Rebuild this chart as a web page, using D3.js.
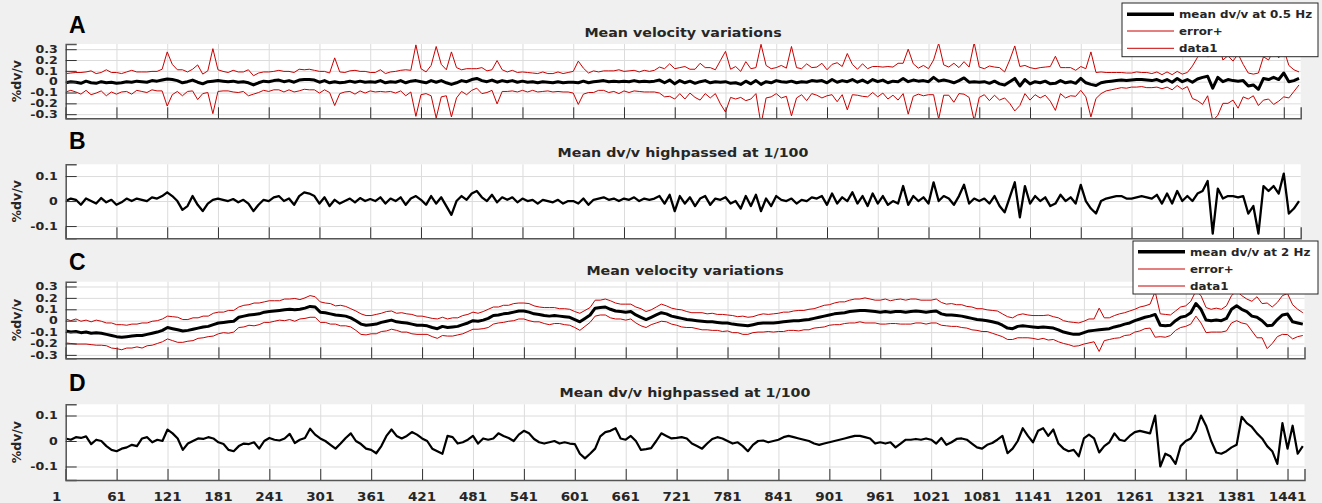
<!DOCTYPE html>
<html><head><meta charset="utf-8">
<script src="https://cdn.jsdelivr.net/npm/d3@7"></script>
<style>body{margin:0;background:#f0f0f0;}svg{display:block;}</style>
</head><body>
<svg id="chart" width="1322" height="503"></svg>
<script>
// ---- DATA (sampled every 6 days, day 1 .. 1459) ----
const days = d3.range(1, 1460, 6);
const xTicks = [1,61,121,181,241,301,361,421,481,541,601,661,721,781,841,901,961,1021,1081,1141,1201,1261,1321,1381,1441];
const xTickLabels = ["1","61","121","181","241","301","361","421","481","541","601","661","721","781","841","901","961","1021","1081","1141","1201","1261","1321","1381","1441"];
const yTicksWide = [-0.3,-0.2,-0.1,0,0.1,0.2,0.3];
const yTickLabelsWide = ["-0.3","-0.2","-0.1","0","0.1","0.2","0.3"];
const yTicksNarrow = [-0.1,0,0.1];
const yTickLabelsNarrow = ["-0.1","0","0.1"];
const legendA = ["mean dv/v at 0.5 Hz","error+","data1"];
const legendC = ["mean dv/v at 2 Hz","error+","data1"];

const meanA = [
-0.01,0.0,-0.005,-0.015,0.005,-0.01,-0.015,0.0,-0.01,-0.005,
-0.015,-0.01,0.0,-0.005,0.005,0.0,-0.005,0.01,0.005,0.015,
0.025,0.02,0.01,-0.01,0.0,0.015,-0.005,-0.02,0.0,0.005,
0.01,0.005,0.0,0.005,-0.005,0.0,-0.01,-0.03,-0.01,0.005,
0.0,0.01,0.015,0.0,0.01,-0.005,0.015,0.02,0.02,0.015,
-0.005,0.01,-0.01,0.0,-0.01,-0.005,0.005,-0.005,0.005,-0.005,
0.0,-0.005,0.01,-0.01,0.0,-0.005,0.01,-0.01,0.005,0.01,
0.0,-0.01,0.01,-0.005,0.01,-0.01,-0.025,-0.01,0.01,0.0,
0.02,0.03,0.01,0.0,0.015,-0.005,0.01,0.0,0.01,-0.005,
0.005,-0.005,0.0,-0.01,0.0,-0.005,-0.01,0.0,-0.01,-0.005,
-0.005,-0.01,0.005,-0.01,0.0,0.005,0.01,0.0,0.005,0.0,
0.005,0.0,0.01,0.0,0.005,0.0,0.005,0.015,-0.01,0.015,
-0.02,0.01,-0.01,0.005,-0.015,0.0,0.01,-0.01,0.0,-0.005,
0.0,-0.015,-0.01,-0.025,0.005,-0.02,0.01,-0.025,0.0,-0.01,
0.01,0.0,-0.005,0.005,-0.01,0.0,-0.005,0.01,0.005,0.01,
-0.01,0.02,-0.005,0.01,0.0,0.02,-0.005,0.015,-0.01,0.02,
0.0,0.015,-0.01,0.005,0.0,0.03,0.0,0.015,0.005,0.01,
0.0,0.04,0.005,0.015,0.005,-0.01,0.01,0.035,-0.005,0.0,
-0.005,0.0,-0.015,0.005,-0.02,-0.03,0.0,0.03,-0.04,0.02,
-0.02,0.0,-0.01,0.005,-0.02,-0.015,0.01,-0.01,0.0,-0.015,
0.03,-0.01,-0.025,-0.035,-0.01,0.0,0.005,0.01,0.015,0.01,
0.015,0.02,0.02,0.015,0.01,0.02,0.0,0.02,-0.005,0.03,
0.0,0.02,-0.005,0.025,0.04,0.05,-0.06,0.04,0.0,0.02,
0.01,0.005,0.01,-0.04,-0.03,-0.07,0.03,0.02,0.04,0.02,
0.08,0.0,0.01,0.03];

const errA = [
0.085,0.08,0.09,0.1,0.085,0.11,0.09,0.085,0.12,0.09,
0.1,0.085,0.09,0.11,0.085,0.09,0.095,0.085,0.09,0.1,
0.25,0.14,0.1,0.12,0.09,0.1,0.16,0.09,0.1,0.3,
0.1,0.09,0.085,0.1,0.095,0.09,0.12,0.085,0.09,0.085,
0.09,0.085,0.09,0.095,0.085,0.09,0.1,0.09,0.095,0.09,
0.1,0.085,0.09,0.22,0.1,0.09,0.095,0.11,0.09,0.1,
0.085,0.09,0.1,0.085,0.09,0.1,0.095,0.12,0.1,0.33,
0.12,0.1,0.14,0.33,0.15,0.12,0.3,0.14,0.1,0.12,
0.1,0.09,0.12,0.1,0.095,0.2,0.1,0.09,0.095,0.09,
0.085,0.09,0.08,0.085,0.09,0.08,0.085,0.09,0.085,0.09,
0.1,0.2,0.12,0.09,0.1,0.085,0.09,0.1,0.095,0.11,
0.09,0.1,0.095,0.09,0.1,0.095,0.1,0.12,0.13,0.15,
0.14,0.12,0.15,0.11,0.13,0.17,0.12,0.14,0.11,0.2,
0.28,0.13,0.15,0.12,0.18,0.14,0.12,0.37,0.15,0.13,
0.12,0.15,0.13,0.32,0.14,0.12,0.17,0.12,0.13,0.16,
0.12,0.14,0.18,0.13,0.26,0.14,0.12,0.15,0.13,0.12,
0.14,0.12,0.15,0.13,0.17,0.14,0.3,0.15,0.12,0.14,
0.12,0.16,0.35,0.14,0.13,0.18,0.12,0.15,0.14,0.36,
0.14,0.12,0.16,0.13,0.15,0.12,0.2,0.3,0.18,0.13,
0.15,0.12,0.14,0.13,0.16,0.25,0.12,0.14,0.13,0.12,
0.11,0.13,0.3,0.12,0.1,0.085,0.08,0.075,0.07,0.07,
0.065,0.07,0.065,0.07,0.065,0.07,0.065,0.07,0.07,0.065,
0.07,0.065,0.15,0.2,0.25,0.18,0.3,0.35,0.2,0.22,
0.18,0.25,0.15,0.12,0.1,0.15,0.2,0.18,0.25,0.2,
0.22,0.15,0.1,0.06];

const hpB = [
0.0,0.01,0.005,-0.015,0.01,0.0,-0.01,0.012,-0.005,0.005,
-0.015,-0.005,0.01,0.0,0.01,0.005,0.0,0.015,0.01,0.02,
0.035,0.02,0.0,-0.035,-0.02,0.02,-0.015,-0.04,-0.01,0.005,
0.01,0.005,0.0,0.008,-0.005,0.005,-0.01,-0.04,-0.015,0.005,
0.0,0.015,0.02,0.0,0.01,-0.015,0.02,0.035,0.03,0.02,
-0.01,0.015,-0.02,0.005,-0.01,0.0,0.01,-0.005,0.012,0.0,
0.008,0.0,0.015,-0.01,0.01,0.0,0.015,-0.015,0.01,0.02,
0.005,-0.015,0.02,-0.01,0.015,-0.02,-0.055,0.0,0.02,0.005,
0.03,0.04,0.015,0.0,0.025,-0.005,0.015,0.005,0.015,-0.005,
0.01,0.0,0.005,-0.01,0.005,0.0,-0.005,0.005,-0.01,0.0,
0.0,-0.01,0.01,-0.015,0.005,0.01,0.015,0.005,0.01,0.0,
0.01,0.005,0.015,0.0,0.01,0.005,0.01,0.02,-0.01,0.025,
-0.04,0.02,-0.01,0.015,-0.02,0.01,0.02,-0.015,0.01,0.005,
0.015,-0.01,0.0,-0.03,0.02,-0.02,0.025,-0.04,0.01,-0.02,
0.02,0.005,0.0,0.01,-0.01,0.005,0.0,0.015,0.01,0.02,
-0.015,0.03,-0.01,0.015,0.0,0.035,-0.01,0.02,-0.02,0.03,
-0.01,0.02,-0.015,0.0,-0.01,0.06,-0.015,0.02,0.0,0.015,
-0.01,0.075,0.0,0.02,0.01,-0.015,0.02,0.065,-0.01,0.01,
0.0,0.01,-0.01,0.02,-0.02,-0.045,0.015,0.075,-0.065,0.06,
-0.01,0.02,0.0,0.015,-0.02,-0.01,0.025,0.0,0.015,-0.01,
0.065,0.0,-0.03,-0.05,0.0,0.01,0.015,0.02,0.02,0.01,
0.01,0.015,0.02,0.015,0.01,0.025,-0.01,0.03,-0.01,0.04,
0.0,0.02,0.0,0.03,0.04,0.08,-0.13,0.05,0.01,0.02,
0.02,0.015,0.02,-0.05,-0.02,-0.13,0.06,0.04,0.06,0.03,
0.11,-0.05,-0.03,0.0];

const meanC = [
-0.09,-0.1,-0.095,-0.105,-0.1,-0.11,-0.105,-0.11,-0.12,-0.13,
-0.14,-0.145,-0.14,-0.135,-0.13,-0.13,-0.12,-0.11,-0.1,-0.085,
-0.06,-0.07,-0.08,-0.09,-0.085,-0.075,-0.065,-0.055,-0.05,-0.035,
-0.02,-0.015,-0.01,-0.005,0.03,0.04,0.05,0.055,0.06,0.075,
0.08,0.085,0.09,0.095,0.1,0.095,0.1,0.11,0.125,0.12,
0.075,0.07,0.06,0.05,0.045,0.04,0.025,0.0,-0.03,-0.04,
-0.035,-0.03,-0.015,-0.005,0.005,-0.01,-0.015,-0.02,-0.03,-0.04,
-0.04,-0.045,-0.06,-0.07,-0.05,-0.06,-0.055,-0.05,-0.035,-0.02,
0.0,-0.005,0.005,0.02,0.045,0.05,0.06,0.065,0.075,0.085,
0.085,0.075,0.06,0.055,0.045,0.04,0.045,0.04,0.035,0.03,
0.01,-0.01,0.02,0.05,0.11,0.115,0.12,0.1,0.085,0.08,
0.075,0.08,0.05,0.03,0.01,0.03,0.05,0.07,0.06,0.04,
0.03,0.02,0.01,0.005,0.0,-0.005,-0.01,-0.01,-0.015,-0.02,
-0.02,-0.03,-0.035,-0.04,-0.045,-0.035,-0.025,-0.02,-0.02,-0.02,
-0.015,-0.01,-0.005,0.0,0.0,0.005,0.01,0.02,0.03,0.04,
0.05,0.06,0.065,0.07,0.08,0.085,0.09,0.09,0.085,0.08,
0.075,0.08,0.075,0.08,0.08,0.075,0.08,0.085,0.08,0.075,
0.08,0.085,0.06,0.05,0.05,0.045,0.04,0.03,0.02,0.01,
0.005,0.0,-0.01,-0.02,-0.04,-0.065,-0.07,-0.05,-0.045,-0.05,
-0.055,-0.06,-0.055,-0.06,-0.065,-0.08,-0.1,-0.11,-0.12,-0.12,
-0.105,-0.09,-0.085,-0.08,-0.075,-0.07,-0.055,-0.045,-0.03,-0.02,
0.0,0.015,0.03,0.04,0.055,-0.04,-0.045,-0.04,0.0,0.03,
0.04,0.07,0.15,0.1,0.005,0.0,0.005,0.0,0.02,0.1,
0.13,0.1,0.08,0.04,0.03,0.0,-0.045,-0.04,0.01,0.05,
0.058,-0.01,-0.02,-0.03];

const errC = [
0.105,0.1,0.11,0.1,0.105,0.1,0.11,0.105,0.1,0.11,
0.105,0.11,0.1,0.105,0.1,0.11,0.1,0.105,0.1,0.1,
0.1,0.105,0.11,0.1,0.095,0.1,0.09,0.095,0.09,0.1,
0.095,0.09,0.1,0.095,0.09,0.095,0.09,0.1,0.095,0.09,
0.095,0.09,0.085,0.095,0.09,0.1,0.085,0.09,0.095,0.09,
0.09,0.085,0.09,0.08,0.09,0.085,0.08,0.085,0.09,0.085,
0.08,0.085,0.08,0.085,0.08,0.075,0.085,0.08,0.085,0.08,
0.08,0.075,0.08,0.085,0.08,0.075,0.08,0.075,0.08,0.075,
0.075,0.07,0.075,0.08,0.075,0.07,0.075,0.07,0.075,0.07,
0.07,0.075,0.07,0.065,0.07,0.075,0.07,0.065,0.07,0.07,
0.07,0.075,0.07,0.065,0.07,0.065,0.07,0.075,0.07,0.065,
0.07,0.065,0.07,0.075,0.07,0.065,0.07,0.075,0.07,0.07,
0.07,0.075,0.07,0.065,0.07,0.075,0.07,0.075,0.07,0.075,
0.07,0.075,0.07,0.08,0.075,0.07,0.075,0.08,0.075,0.08,
0.08,0.085,0.08,0.085,0.09,0.085,0.09,0.085,0.09,0.095,
0.09,0.095,0.1,0.095,0.1,0.105,0.1,0.11,0.105,0.1,
0.105,0.11,0.1,0.105,0.11,0.105,0.11,0.105,0.1,0.105,
0.1,0.105,0.1,0.095,0.1,0.095,0.1,0.095,0.1,0.095,
0.1,0.095,0.1,0.105,0.1,0.1,0.095,0.1,0.105,0.1,
0.1,0.105,0.1,0.11,0.1,0.105,0.1,0.1,0.105,0.1,
0.1,0.105,0.1,0.19,0.1,0.095,0.1,0.105,0.1,0.105,
0.1,0.105,0.1,0.105,0.2,0.1,0.1,0.09,0.085,0.09,
0.09,0.1,0.11,0.12,0.11,0.1,0.105,0.1,0.11,0.12,
0.13,0.12,0.11,0.13,0.18,0.15,0.2,0.16,0.15,0.17,
0.18,0.15,0.12,0.1];

const hpD = [
0.01,0.005,0.015,0.012,0.018,-0.012,0.005,0.0,-0.02,-0.035,
-0.04,-0.03,-0.025,-0.015,-0.02,0.01,0.015,-0.005,0.005,0.0,
0.045,0.03,0.01,-0.035,-0.01,0.0,0.01,0.008,0.015,0.01,
-0.005,-0.012,-0.035,-0.04,-0.02,-0.01,-0.012,-0.005,-0.03,0.0,
0.012,0.005,0.002,0.01,0.028,-0.008,0.005,0.012,0.048,0.025,
0.01,0.0,-0.015,-0.03,-0.01,0.012,0.03,0.0,-0.012,-0.03,
-0.035,-0.048,-0.02,0.02,0.045,0.02,0.01,0.02,0.035,0.025,
0.01,0.0,-0.03,-0.04,-0.05,0.02,0.015,-0.01,-0.005,0.005,
0.02,-0.01,0.01,0.005,0.01,0.03,0.02,0.012,0.0,0.025,
0.04,0.03,0.008,-0.005,-0.01,-0.005,0.0,-0.01,-0.005,-0.01,
-0.012,-0.05,-0.068,-0.05,-0.03,0.018,0.035,0.04,0.05,0.01,
0.005,0.02,0.0,-0.035,-0.032,-0.028,0.0,0.03,0.02,0.01,
0.012,0.015,0.01,-0.01,-0.02,-0.03,-0.01,0.008,0.015,0.01,
0.0,-0.01,-0.005,-0.02,-0.04,-0.015,0.0,0.002,-0.005,0.0,
0.005,0.015,0.02,0.015,0.01,0.005,0.0,-0.01,-0.015,-0.01,
-0.005,0.0,0.005,0.01,0.015,0.02,0.02,0.015,0.01,-0.01,
-0.005,-0.01,-0.005,-0.025,-0.01,0.005,0.005,0.008,0.005,0.01,
0.005,-0.01,0.012,-0.015,-0.005,0.008,0.01,0.005,-0.01,-0.025,
-0.03,-0.015,-0.008,0.005,0.02,-0.048,-0.03,0.0,0.05,0.02,
-0.005,0.04,0.05,0.02,0.045,-0.01,-0.03,-0.04,-0.035,-0.06,
0.01,0.025,0.01,-0.045,-0.02,-0.005,0.03,0.005,0.0,0.02,
0.035,0.04,0.035,0.03,0.1,-0.1,-0.05,-0.06,-0.09,-0.02,
0.0,0.01,0.04,0.1,0.06,0.0,-0.045,-0.05,-0.04,-0.025,
-0.015,0.095,0.07,0.055,0.03,0.01,-0.02,-0.04,-0.09,0.07,
-0.03,0.06,-0.05,-0.02];

// ---- LAYOUT ----
const svg = d3.select("#chart");
svg.append("rect").attr("width",1322).attr("height",503).attr("fill","#f0f0f0");
const FONT = "DejaVu Sans";
const RED = "#c80000";

function stretchedText(g, x, y, str, size, anchor, sx, weight){
  return g.append("text")
    .attr("transform", `translate(${x},${y}) scale(${sx},1)`)
    .attr("text-anchor", anchor).attr("font-family", FONT)
    .attr("font-weight", weight||"bold").attr("font-size", size)
    .attr("fill", "#262626").text(str);
}

function panel(cfg){
  const {id,left,right,top,bottom,ydom,yticks,ylabels,series,title,titleX,titleY,letterY,xlabels} = cfg;
  const g = svg.append("g");
  const x = d3.scaleLinear().domain([1,1461]).range([left,right]);
  const y = d3.scaleLinear().domain(ydom).range([bottom,top]);
  g.append("rect").attr("x",left).attr("y",top).attr("width",right-left).attr("height",bottom-top).attr("fill","#fff");
  g.append("g").attr("transform",`translate(0,${bottom})`)
    .call(d3.axisBottom(x).tickValues(xTicks).tickSize(-(bottom-top)).tickFormat(""))
    .call(s=>{s.select(".domain").remove(); s.selectAll("line").attr("stroke","#dcdcdc").attr("stroke-width",1);});
  g.append("g").attr("transform",`translate(${left},0)`)
    .call(d3.axisLeft(y).tickValues(yticks).tickSize(-(right-left)).tickFormat(""))
    .call(s=>{s.select(".domain").remove(); s.selectAll("line").attr("stroke","#dcdcdc").attr("stroke-width",1);});
  const cid = "clip"+id;
  svg.append("clipPath").attr("id",cid).append("rect").attr("x",left).attr("y",top).attr("width",right-left).attr("height",bottom-top);
  const lg = g.append("g").attr("clip-path",`url(#${cid})`);
  series.forEach(s=>{
    const line = d3.line().x((d,i)=>x(days[i])).y(d=>y(d));
    lg.append("path").datum(s.values).attr("d",line).attr("fill","none")
      .attr("stroke",s.color).attr("stroke-width",s.width).attr("stroke-linejoin","round");
  });
  const ax = g.append("g").attr("transform",`translate(0,${bottom})`)
    .call(d3.axisBottom(x).tickValues(xTicks).tickSize(-11).tickFormat(""));
  ax.select(".domain").attr("stroke","#555").attr("stroke-width",1.5);
  ax.selectAll("line").attr("stroke","#333");
  if (xlabels){
    xTicks.forEach((t,i)=> stretchedText(g, x(t) + (i===0?-9:0), 501, xTickLabels[i], 12.3, "middle", 1.1));
  }
  const ay = g.append("g").attr("transform",`translate(${left},0)`)
    .call(d3.axisLeft(y).tickValues(yticks).tickSize(-11).tickFormat(""));
  ay.select(".domain").attr("stroke","#555").attr("stroke-width",1.5);
  ay.selectAll("line").attr("stroke","#333");
  yticks.forEach((t,i)=> stretchedText(g, left-8, y(t)+3.8, ylabels[i], 10.5, "end", 1.2));
  stretchedText(g, titleX, titleY, title, 12.4, "middle", 1.15);
  g.append("text").attr("x",69).attr("y",letterY).attr("font-family","Liberation Sans").attr("font-weight","bold")
    .attr("font-size",23).attr("fill","#000").text(id);
  g.append("text").attr("transform",`translate(16,${(top+bottom)/2}) rotate(-90)`)
    .attr("text-anchor","middle").attr("dominant-baseline","central")
    .attr("font-family",FONT).attr("font-weight","bold").attr("font-size",12.5).attr("fill","#262626").text("%dv/v");
  return g;
}

function legend(x0,y0,x1,y1,entries,lx0,lx1,tx,ys){
  const g = svg.append("g");
  g.append("rect").attr("x",x0).attr("y",y0).attr("width",x1-x0).attr("height",y1-y0)
    .attr("fill","#fff").attr("stroke","#262626").attr("stroke-width",1);
  entries.forEach((e,i)=>{
    g.append("line").attr("x1",lx0).attr("x2",lx1).attr("y1",ys[i]).attr("y2",ys[i])
      .attr("stroke", i===0?"#000":RED).attr("stroke-width", i===0?3.5:1);
    stretchedText(g, tx, ys[i]+3.8, e, 10.5, "start", 1.13);
  });
}

const upperA = meanA.map((m,i)=>m+errA[i]);
const lowerA = meanA.map((m,i)=>m-errA[i]);
const upperC = meanC.map((m,i)=>m+errC[i]);
const lowerC = meanC.map((m,i)=>m-errC[i]);

panel({id:"A",left:65.7,right:1300.7,top:44,bottom:118.3,ydom:[-0.338,0.348],yticks:yTicksWide,ylabels:yTickLabelsWide,
  series:[{values:upperA,color:RED,width:1},{values:lowerA,color:RED,width:1},{values:meanA,color:"#000",width:3}],
  title:"Mean velocity variations",titleX:683,titleY:37,letterY:33,xlabels:false});
panel({id:"B",left:65.7,right:1300.7,top:164.3,bottom:238.3,ydom:[-0.149,0.147],yticks:yTicksNarrow,ylabels:yTickLabelsNarrow,
  series:[{values:hpB,color:"#000",width:2.3}],
  title:"Mean dv/v highpassed at 1/100",titleX:683,titleY:157,letterY:149,xlabels:false});
panel({id:"C",left:65.7,right:1304.5,top:281.7,bottom:358.3,ydom:[-0.33,0.342],yticks:yTicksWide,ylabels:yTickLabelsWide,
  series:[{values:upperC,color:RED,width:1},{values:lowerC,color:RED,width:1},{values:meanC,color:"#000",width:3}],
  title:"Mean velocity variations",titleX:685,titleY:275,letterY:270,xlabels:false});
panel({id:"D",left:65.7,right:1304.5,top:404.3,bottom:480,ydom:[-0.153,0.144],yticks:yTicksNarrow,ylabels:yTickLabelsNarrow,
  series:[{values:hpD,color:"#000",width:2.2}],
  title:"Mean dv/v highpassed at 1/100",titleX:685,titleY:397,letterY:391,xlabels:true});

legend(1122,3,1318,56.7,legendA,1127,1174,1179,[14.3,31,48.3]);
legend(1133,241,1318,294,legendC,1138,1185,1190,[251.7,269,286]);
</script>
</body></html>
